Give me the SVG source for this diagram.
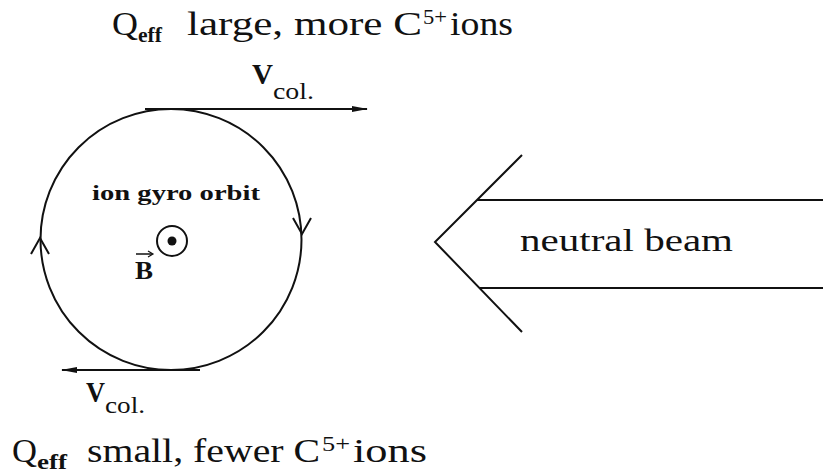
<svg xmlns="http://www.w3.org/2000/svg" width="823" height="474" viewBox="0 0 823 474">
<style>
.t{font-family:"Liberation Serif","Times New Roman",serif;fill:#111}
.b{font-weight:bold}
.ln{stroke:#111;stroke-width:2;fill:none}
</style>
<defs>
<marker id="ah" viewBox="0 0 16 8" refX="15" refY="4" markerWidth="16" markerHeight="8" markerUnits="userSpaceOnUse" orient="auto">
<path d="M0,1 L16,4 L0,7 z" fill="#111"/>
</marker>
</defs>
<rect width="823" height="474" fill="#fff"/>
<g id="orbit">
<circle class="ln" cx="171" cy="239.5" r="130.5"/>
<path class="ln" d="M293,218 L302,234 L311,218"/>
<path class="ln" d="M31,254 L40,238 L49,254"/>
<text class="t b" x="92" y="200" font-size="20" textLength="168" lengthAdjust="spacingAndGlyphs">ion gyro orbit</text>
</g>
<g id="bfield">
<circle class="ln" cx="172" cy="241" r="15"/>
<circle cx="172" cy="241" r="4.5" fill="#111"/>
<text class="t b" x="135" y="279" font-size="25" textLength="18" lengthAdjust="spacingAndGlyphs">B</text>
<path d="M136,254 L152,254" stroke="#111" stroke-width="1.5"/>
<path d="M148,251 L153,254 L148,257" stroke="#111" stroke-width="1.2" fill="none"/>
</g>
<g id="connectors">
<line class="ln" x1="145" y1="109" x2="367" y2="109" marker-end="url(#ah)"/>
<line class="ln" x1="200" y1="370" x2="62" y2="370" marker-end="url(#ah)"/>
</g>
<g id="vtop">
<text class="t b" x="252" y="84" font-size="30" textLength="21" lengthAdjust="spacingAndGlyphs">V</text>
<text class="t" x="273" y="99" font-size="24" textLength="41" lengthAdjust="spacingAndGlyphs">col.</text>
</g>
<g id="vbottom">
<text class="t b" x="86" y="402" font-size="30" textLength="19" lengthAdjust="spacingAndGlyphs">V</text>
<text class="t" x="105" y="413" font-size="24" textLength="40" lengthAdjust="spacingAndGlyphs">col.</text>
</g>
<g id="top-label">
<text class="t" x="112" y="35" font-size="34" textLength="26" lengthAdjust="spacingAndGlyphs">Q</text>
<text class="t b" x="138" y="42" font-size="20" textLength="24" lengthAdjust="spacingAndGlyphs">eff</text>
<text class="t" x="187" y="35" font-size="34" textLength="235" lengthAdjust="spacingAndGlyphs">large, more C</text>
<text class="t" x="423" y="24" font-size="21" textLength="24" lengthAdjust="spacingAndGlyphs">5+</text>
<text class="t" x="450" y="35" font-size="34" textLength="63" lengthAdjust="spacingAndGlyphs">ions</text>
</g>
<g id="bottom-label">
<text class="t" x="12" y="462" font-size="34" textLength="25" lengthAdjust="spacingAndGlyphs">Q</text>
<text class="t b" x="37" y="469" font-size="20" textLength="30" lengthAdjust="spacingAndGlyphs">eff</text>
<text class="t" x="87" y="462" font-size="34" textLength="233" lengthAdjust="spacingAndGlyphs">small, fewer C</text>
<text class="t" x="322" y="451" font-size="21" textLength="28" lengthAdjust="spacingAndGlyphs">5+</text>
<text class="t" x="353" y="462" font-size="34" textLength="74" lengthAdjust="spacingAndGlyphs">ions</text>
</g>
<g id="neutral-beam">
<path class="ln" d="M522,155 L435,242 L522,332"/>
<line class="ln" x1="477" y1="200" x2="823" y2="200"/>
<line class="ln" x1="480" y1="288" x2="823" y2="288"/>
<text class="t" x="520" y="251" font-size="32" textLength="213" lengthAdjust="spacingAndGlyphs">neutral beam</text>
</g>
</svg>
